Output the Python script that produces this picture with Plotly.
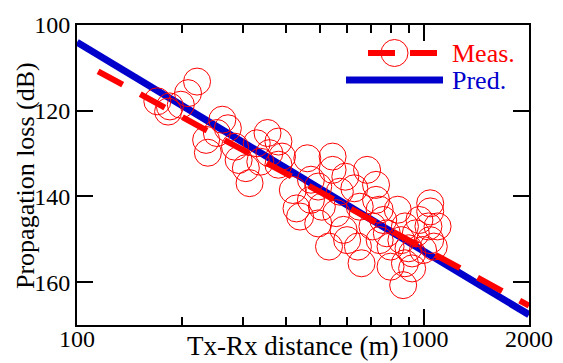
import plotly.graph_objects as go

# ---- data ----
meas_d = [221.6, 208.7, 170.3, 185.1, 182.9, 199.0, 262.0, 271.8, 235.3, 238.1,
          285.0, 291.9, 313.8, 252.7, 306.2, 353.5, 329.1, 380.0, 357.8, 389.1,
          380.0, 337.0, 460.2, 544.1, 544.1, 471.4, 494.7, 418.0, 428.4, 438.7,
          471.4, 506.7, 494.7, 531.3, 557.3, 585.0, 570.9, 592.0, 683.8, 725.7,
          628.4, 651.4, 725.7, 743.2, 761.1, 708.5, 599.1, 659.2, 643.6, 779.5,
          743.2, 837.9, 878.9, 944.6, 1039, 1039, 1027, 967.4, 858.2, 798.9,
          921.8, 990.9, 1064, 1039, 798.9, 878.9, 921.8, 868.6, 1091, 900.0]
meas_L = [113.2, 115.9, 117.8, 119.0, 120.2, 118.6, 122.1, 124.1, 126.8, 129.8,
          128.4, 131.5, 136.9, 125.2, 133.4, 125.2, 127.6, 127.2, 129.9, 130.7,
          132.6, 131.9, 131.1, 130.7, 133.8, 136.1, 137.7, 138.5, 142.8, 144.7,
          140.8, 142.4, 146.3, 151.7, 143.9, 147.8, 138.9, 135.4, 133.8, 137.3,
          138.1, 142.4, 140.8, 143.1, 145.5, 147.0, 150.2, 155.6, 151.7, 148.6,
          150.2, 143.1, 147.0, 148.6, 141.6, 143.5, 147.0, 145.5, 150.2, 151.7,
          153.3, 152.5, 151.7, 150.2, 156.4, 155.6, 156.8, 160.7, 147.0, 152.1]

meas_fit_d = [115, 2000]
meas_fit_L = [110.8, 165.5]

pred_d = [100, 2000]
pred_L = [104.0, 167.6]

x_tickvals = [100, 1000, 2000]
x_ticktext = ["100", "1000", "2000"]
x_minor_vals = [200, 300, 400, 500, 600, 700, 800, 900]
y_tickvals = [100, 120, 140, 160]

series_names = ["Meas.", "Pred."]

RED = "#ff0000"
BLUE = "#0000cc"
FONT = "Liberation Serif, Times New Roman, serif"

fig = go.Figure()
fig.add_trace(go.Scatter(x=pred_d, y=pred_L, mode="lines",
                         line=dict(color=BLUE, width=7), showlegend=False))
fig.add_trace(go.Scatter(x=meas_fit_d, y=meas_fit_L, mode="lines",
                         line=dict(color=RED, width=6, dash="28px,20px"),
                         showlegend=False))
fig.add_trace(go.Scatter(x=meas_d, y=meas_L, mode="markers",
                         marker=dict(symbol="circle-open", size=27,
                                     color=RED, line=dict(color=RED, width=1)),
                         showlegend=False))

L, R, T, B = 77, 34, 25, 38
W, H = 563, 363
pw, ph = W - L - R, H - T - B

def px(x):
    return (x - L) / pw

def py(y):
    return (H - B - y) / ph

shapes = [
    dict(type="line", xref="paper", yref="paper", x0=px(368), x1=px(395),
         y0=py(53), y1=py(53), line=dict(color=RED, width=6)),
    dict(type="line", xref="paper", yref="paper", x0=px(410), x1=px(437),
         y0=py(53), y1=py(53), line=dict(color=RED, width=6)),
    dict(type="circle", xref="paper", yref="paper", xsizemode="pixel",
         ysizemode="pixel", xanchor=px(394.5), yanchor=py(53),
         x0=-13.5, x1=13.5, y0=-13.5, y1=13.5, line=dict(color=RED, width=1)),
    dict(type="line", xref="paper", yref="paper", x0=px(346), x1=px(443),
         y0=py(80), y1=py(80), line=dict(color=BLUE, width=7)),
]

annotations = [
    dict(text=series_names[0], xref="paper", yref="paper", x=px(450), y=py(53),
         xanchor="left", yanchor="middle", showarrow=False, height=26,
         font=dict(family=FONT, size=26, color=RED)),
    dict(text=series_names[1], xref="paper", yref="paper", x=px(450), y=py(80),
         xanchor="left", yanchor="middle", showarrow=False, height=26,
         font=dict(family=FONT, size=26, color=BLUE)),
    dict(text="Tx-Rx distance (m)", xref="paper", yref="paper", x=px(292),
         y=py(363), xanchor="center", yanchor="bottom", showarrow=False,
         font=dict(family=FONT, size=27, color="black")),
    dict(text="Propagation loss (dB)", xref="paper", yref="paper", x=px(25),
         y=py(176), xanchor="center", yanchor="middle", showarrow=False,
         textangle=-90, font=dict(family=FONT, size=26, color="black")),
]

fig.update_layout(
    width=W, height=H,
    margin=dict(l=L, r=R, t=T, b=B, pad=0),
    paper_bgcolor="white", plot_bgcolor="white",
    font=dict(family=FONT, size=24, color="black"),
    shapes=shapes, annotations=annotations,
    xaxis=dict(type="log", range=[2, 3.30103], tickmode="array",
               tickvals=x_tickvals, ticktext=x_ticktext,
               ticks="inside", ticklen=16, tickwidth=2, tickcolor="black",
               ticklabelstandoff=-9,
               showline=True, linewidth=2, linecolor="black", mirror="ticks",
               showgrid=False, zeroline=False, automargin=False,
               tickfont=dict(family=FONT, size=24, color="black"),
               minor=dict(tickmode="array", tickvals=x_minor_vals, ticks="inside",
                          ticklen=8, tickwidth=2, tickcolor="black", showgrid=False)),
    yaxis=dict(range=[170, 100], tickmode="array", tickvals=y_tickvals,
               ticks="inside", ticklen=16, tickwidth=2, tickcolor="black",
               showline=True, linewidth=2, linecolor="black", mirror="ticks",
               showgrid=False, zeroline=False, automargin=False,
               tickfont=dict(family=FONT, size=24, color="black")),
)

fig.write_html("out.html", config={"displayModeBar": False},
               post_script="document.body.style.margin='0';document.body.style.overflow='hidden';")
